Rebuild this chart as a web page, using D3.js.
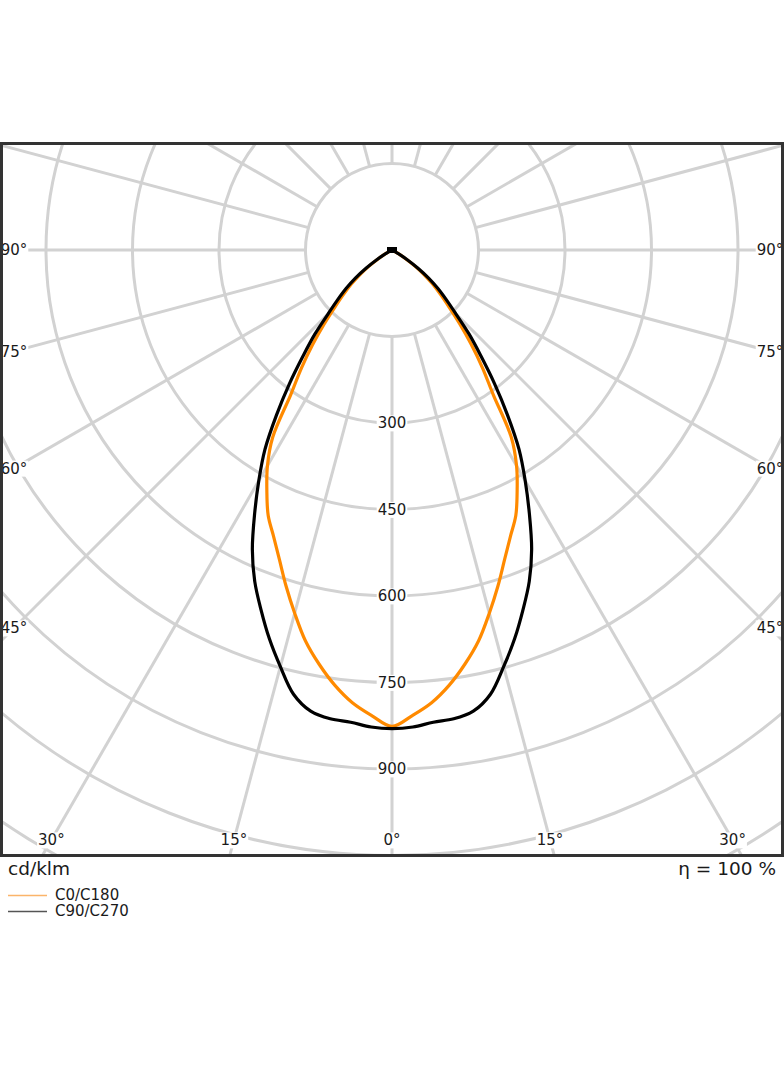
<!DOCTYPE html>
<html>
<head>
<meta charset="utf-8">
<script src="https://cdn.jsdelivr.net/npm/d3@7"></script>
<style>
  body { margin: 0; background: #fff; }
  text { font-family: "DejaVu Sans", sans-serif; fill: #1a1a1a; }
</style>
</head>
<body>
<script>
// Polar light distribution diagram (cd/klm)

// gamma angles (deg from nadir) and intensities per C-plane pair
var gammas  = [0, 2.5, 5, 7.5, 10, 12.5, 15, 17.5, 20, 22.5, 25, 27.5, 30, 32.5, 35, 37.5, 40, 42.5, 45, 47.5, 50, 52.5, 55, 57.5, 60, 62.5, 65, 70, 75, 80, 85, 90];
var c0c180  = [826, 808, 788, 761, 729, 694, 652, 611, 571, 537, 508, 470, 432, 385, 306, 258, 214, 174, 140, 114, 92, 70, 48, 28, 12, 3, 0, 0, 0, 0, 0, 0];
var c90c270 = [830, 828, 822, 820, 812, 789, 748, 707, 664, 622, 573, 516, 462, 410, 349, 292, 240, 198, 157, 128, 104, 80, 55, 32, 15, 5, 0, 0, 0, 0, 0, 0];

var rings = [150, 300, 450, 600, 750, 900, 1050, 1200, 1350, 1500];
var ringLabels = [300, 450, 600, 750, 900];
var spokes = d3.range(0, 360, 15);
var bottomTicks = [-30, -15, 0, 15, 30];
var sideTicks = [45, 60, 75, 90];

var width = 784, height = 1066;
var frame = {left: 1.5, top: 143.5, right: 782.5, bottom: 855.5};
var cx = 392, cy = 250;

var r = d3.scaleLinear().domain([0, 150]).range([0, 86.5]);

var svg = d3.select("body").append("svg")
    .attr("width", width)
    .attr("height", height);

svg.append("clipPath")
    .attr("id", "clip")
  .append("rect")
    .attr("x", frame.left)
    .attr("y", frame.top)
    .attr("width", frame.right - frame.left)
    .attr("height", frame.bottom - frame.top);

var plot = svg.append("g").attr("clip-path", "url(#clip)");
var g = plot.append("g").attr("transform", "translate(" + cx + "," + cy + ")");

var grid = "#d2d2d2";

// rings
g.selectAll(".ring")
  .data(rings)
  .enter().append("circle")
    .attr("class", "ring")
    .attr("r", function(d) { return r(d); })
    .attr("fill", "none")
    .attr("stroke", grid)
    .attr("stroke-width", 3);

// spokes, from the first ring outwards
g.selectAll(".spoke")
  .data(spokes)
  .enter().append("line")
    .attr("class", "spoke")
    .attr("x1", function(d) { return r(150) * Math.sin(d * Math.PI / 180); })
    .attr("y1", function(d) { return r(150) * Math.cos(d * Math.PI / 180); })
    .attr("x2", function(d) { return r(1600) * Math.sin(d * Math.PI / 180); })
    .attr("y2", function(d) { return r(1600) * Math.cos(d * Math.PI / 180); })
    .attr("stroke", grid)
    .attr("stroke-width", 3);

// curves: gamma measured from nadir, mirrored to both sides
function fullCurve(vals) {
  var pts = [];
  for (var i = gammas.length - 1; i >= 0; i--) pts.push([Math.PI + gammas[i] * Math.PI / 180, vals[i]]);
  for (var j = 1; j < gammas.length; j++) pts.push([Math.PI - gammas[j] * Math.PI / 180, vals[j]]);
  return pts;
}

var line = d3.lineRadial()
    .angle(function(d) { return d[0]; })
    .radius(function(d) { return r(d[1]); })
    .curve(d3.curveCatmullRom);

g.append("path")
    .datum(fullCurve(c0c180))
    .attr("d", line)
    .attr("fill", "none")
    .attr("stroke", "#ff8a00")
    .attr("stroke-width", 3.2)
    .attr("stroke-linejoin", "round");

g.append("path")
    .datum(fullCurve(c90c270))
    .attr("d", line)
    .attr("fill", "none")
    .attr("stroke", "#000")
    .attr("stroke-width", 3.2)
    .attr("stroke-linejoin", "round");

// little square at the origin where the curves meet
g.append("rect")
    .attr("x", r(0) - 5)
    .attr("y", r(0) - 3)
    .attr("width", 10)
    .attr("height", 6)
    .attr("fill", "#000");

// labels with white boxes
function boxedLabel(parent, x, y, txt) {
  var t = parent.append("text")
      .attr("x", x)
      .attr("y", y)
      .attr("dy", "0.36em")
      .attr("text-anchor", "middle")
      .style("font-size", "15px")
      .text(txt);
  var b = t.node().getBBox();
  parent.insert("rect", function() { return t.node(); })
      .attr("x", b.x - 1)
      .attr("y", b.y + 1)
      .attr("width", b.width + 2)
      .attr("height", b.height - 2)
      .attr("fill", "#fff");
}

ringLabels.forEach(function(v) {
  boxedLabel(g, 0, r(v), v);
});

var labels = plot.append("g");
bottomTicks.forEach(function(a) {
  var y = 840;
  var x = cx + (y - cy) * Math.tan(a * Math.PI / 180);
  boxedLabel(labels, x, y, Math.abs(a) + "°");
});
sideTicks.forEach(function(a) {
  var dx = 378;
  var y = cy + dx / Math.tan(a * Math.PI / 180);
  boxedLabel(labels, cx - dx, y, a + "°");
  boxedLabel(labels, cx + dx, y, a + "°");
});

// frame
svg.append("rect")
    .attr("x", frame.left)
    .attr("y", frame.top)
    .attr("width", frame.right - frame.left)
    .attr("height", frame.bottom - frame.top)
    .attr("fill", "none")
    .attr("stroke", "#333")
    .attr("stroke-width", 3);

// units and efficiency
svg.append("text")
    .attr("x", 8)
    .attr("y", 875)
    .style("font-size", "18.5px")
    .text("cd/klm");

svg.append("text")
    .attr("x", 776)
    .attr("y", 875)
    .attr("text-anchor", "end")
    .style("font-size", "18.5px")
    .text("η = 100 %");

// legend
var legend = [
  {name: "C0/C180", color: "#fbb46a"},
  {name: "C90/C270", color: "#555"}
];
var lg = svg.append("g").attr("transform", "translate(8,895)");
legend.forEach(function(d, i) {
  lg.append("line")
      .attr("x1", 0).attr("x2", 39)
      .attr("y1", i * 16 + 0.5).attr("y2", i * 16 + 0.5)
      .attr("stroke", d.color)
      .attr("stroke-width", 1.5);
  lg.append("text")
      .attr("x", 47)
      .attr("y", i * 16)
      .attr("dy", "0.36em")
      .style("font-size", "15px")
      .text(d.name);
});
</script>
</body>
</html>
